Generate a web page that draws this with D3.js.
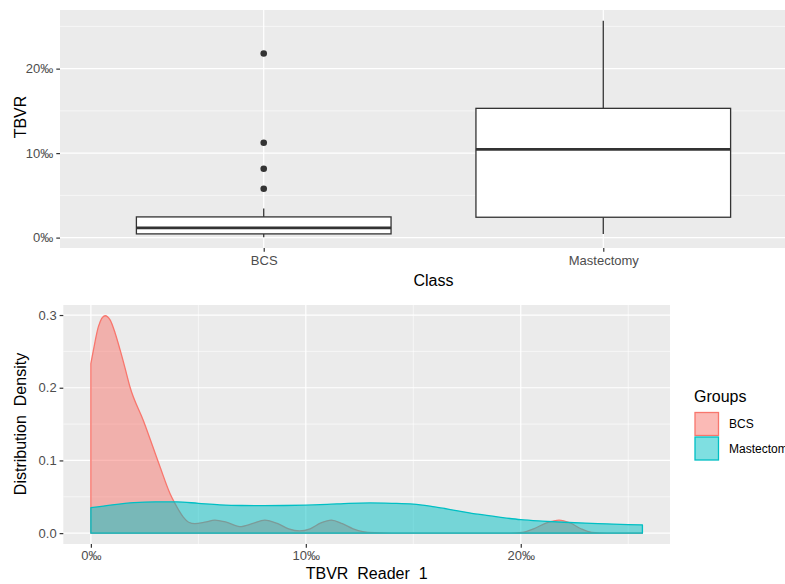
<!DOCTYPE html>
<html>
<head>
<meta charset="utf-8">
<script src="https://cdn.jsdelivr.net/npm/d3@7"></script>
<style>
  body { margin: 0; background: #fff; }
  svg { display: block; font-family: "Liberation Sans", Arial, sans-serif; }
  text { white-space: pre; }
</style>
</head>
<body>
<svg id="chart" width="785" height="584"></svg>
<script>
// ---------- DATA ----------
const classes = ["BCS", "Mastectomy"];
// box stats (‰): whisker low, Q1, median, Q3, whisker high
const boxLow    = [0.05, 0.44];
const boxQ1     = [0.44, 2.41];
const boxMedian = [1.15, 10.44];
const boxQ3     = [2.45, 15.3];
const boxHigh   = [3.44, 25.66];
const bcsOutliers = [5.78, 8.15, 11.23, 21.8];

const topYTicks = [0, 10, 20];
const botXTicks = [0, 10, 20];
const botYTicks = [0, 0.1, 0.2, 0.3];

// density curves (x in ‰, density)
const bcsDensX = [0, 0.12, 0.35, 0.66, 0.9, 1.13, 1.36, 1.59, 1.82, 2.44, 3.22, 3.68, 3.91, 4.1, 4.3, 4.55, 4.84, 5.3, 5.77, 6.3, 6.93, 7.5, 8.09, 8.7, 9.2, 9.71, 10.2, 10.7, 11.18, 11.7, 12.2, 12.65, 13.2, 14, 19.5, 20.07, 20.6, 21.2, 21.78, 22.3, 22.8, 23.3, 24, 25.66];
const bcsDensY = [0.233, 0.252, 0.284, 0.299, 0.293, 0.275, 0.252, 0.227, 0.201, 0.155, 0.091, 0.0546, 0.041, 0.031, 0.022, 0.015, 0.013, 0.015, 0.018, 0.015, 0.009, 0.013, 0.018, 0.013, 0.006, 0.003, 0.006, 0.014, 0.018, 0.013, 0.006, 0.002, 0.0005, 0, 0, 0.001, 0.006, 0.014, 0.018, 0.014, 0.006, 0.001, 0, 0];
const mastDensX = [0, 1, 2, 3, 4, 5, 6, 7, 8, 9, 10, 11, 12, 13, 14, 15, 16, 17, 18, 19, 20, 21, 22, 23, 24, 25, 25.66];
const mastDensY = [0.035, 0.039, 0.042, 0.043, 0.043, 0.041, 0.039, 0.038, 0.0378, 0.038, 0.0385, 0.0395, 0.041, 0.0415, 0.041, 0.040, 0.036, 0.031, 0.026, 0.022, 0.0185, 0.0165, 0.0150, 0.0138, 0.0128, 0.0118, 0.0114];

const groups = ["BCS", "Mastectomy"];
const groupColors = ["#F8766D", "#00BFC4"];

// ---------- LAYOUT ----------
const svg = d3.select("#chart");
const bg = "#EBEBEB", tickCol = "#4D4D4D", gridCol = "#FFFFFF";
const fmt = d => d + "‰";

// ===== TOP PANEL (boxplot) =====
const T = {l: 60, r: 807, t: 10, b: 248};
const xTop = d3.scalePoint().domain(classes).range([T.l, T.r]).padding(0.6);
const yTop = d3.scaleLinear().domain([-1.23, 26.94]).range([T.b, T.t]);
const gTop = svg.append("g");
gTop.append("rect").attr("x", T.l).attr("y", T.t).attr("width", T.r - T.l).attr("height", T.b - T.t).attr("fill", bg);
gTop.selectAll(".minor").data([5, 15, 25]).join("line")
  .attr("x1", T.l).attr("x2", T.r).attr("y1", d => yTop(d)).attr("y2", d => yTop(d))
  .attr("stroke", gridCol).attr("stroke-width", 0.6);
gTop.selectAll(".major").data(topYTicks).join("line")
  .attr("x1", T.l).attr("x2", T.r).attr("y1", d => yTop(d)).attr("y2", d => yTop(d))
  .attr("stroke", gridCol).attr("stroke-width", 1.2);
gTop.selectAll(".vmajor").data(classes).join("line")
  .attr("x1", d => xTop(d)).attr("x2", d => xTop(d)).attr("y1", T.t).attr("y2", T.b)
  .attr("stroke", gridCol).attr("stroke-width", 1.2);

const bw = xTop.step() * 0.75;
const boxStroke = "#333333";
classes.forEach((c, i) => {
  const cx = xTop(c);
  gTop.append("line").attr("x1", cx).attr("x2", cx).attr("y1", yTop(boxHigh[i])).attr("y2", yTop(boxQ3[i]))
    .attr("stroke", boxStroke).attr("stroke-width", 1.3);
  gTop.append("line").attr("x1", cx).attr("x2", cx).attr("y1", yTop(boxQ1[i])).attr("y2", yTop(boxLow[i]))
    .attr("stroke", boxStroke).attr("stroke-width", 1.3);
  gTop.append("rect").attr("x", cx - bw / 2).attr("width", bw)
    .attr("y", yTop(boxQ3[i])).attr("height", yTop(boxQ1[i]) - yTop(boxQ3[i]))
    .attr("fill", "#fff").attr("stroke", boxStroke).attr("stroke-width", 1.3);
  gTop.append("line").attr("x1", cx - bw / 2).attr("x2", cx + bw / 2).attr("y1", yTop(boxMedian[i])).attr("y2", yTop(boxMedian[i]))
    .attr("stroke", boxStroke).attr("stroke-width", 2.6);
});
gTop.selectAll(".out").data(bcsOutliers).join("circle")
  .attr("cx", xTop("BCS")).attr("cy", d => yTop(d)).attr("r", 3.3).attr("fill", "#333");

// axes top
const yAxT = gTop.append("g").attr("transform", `translate(${T.l},0)`)
  .call(d3.axisLeft(yTop).tickValues(topYTicks).tickFormat(fmt).tickSize(3.7).tickPadding(3));
const xAxT = gTop.append("g").attr("transform", `translate(0,${T.b})`)
  .call(d3.axisBottom(xTop).tickSize(3.7).tickPadding(4));
[yAxT, xAxT].forEach(a => {
  a.select(".domain").remove();
  a.selectAll(".tick line").attr("stroke", "#333").attr("stroke-width", 1.2);
  a.selectAll(".tick text").attr("fill", tickCol).style("font-size", "13px").style("font-family", "Liberation Sans, Arial, sans-serif");
});
gTop.append("text").attr("x", (T.l + T.r) / 2).attr("y", 285.5).attr("text-anchor", "middle")
  .style("font-size", "16px").text("Class");
gTop.append("text").attr("transform", `translate(26,117) rotate(-90)`).attr("text-anchor", "middle")
  .style("font-size", "16px").text("TBVR");

// ===== BOTTOM PANEL (density) =====
const B = {l: 63.3, r: 670, t: 305, b: 544};
const xBot = d3.scaleLinear().domain([-1.283, 26.943]).range([B.l, B.r]);
const yBot = d3.scaleLinear().domain([-0.01495, 0.3138]).range([B.b, B.t]);
const gBot = svg.append("g");
gBot.append("rect").attr("x", B.l).attr("y", B.t).attr("width", B.r - B.l).attr("height", B.b - B.t).attr("fill", bg);
gBot.selectAll(".hminor").data([0.05, 0.15, 0.25]).join("line")
  .attr("x1", B.l).attr("x2", B.r).attr("y1", d => yBot(d)).attr("y2", d => yBot(d))
  .attr("stroke", gridCol).attr("stroke-width", 0.6);
gBot.selectAll(".vminor").data([5, 15, 25]).join("line")
  .attr("x1", d => xBot(d)).attr("x2", d => xBot(d)).attr("y1", B.t).attr("y2", B.b)
  .attr("stroke", gridCol).attr("stroke-width", 0.6);
gBot.selectAll(".hmajor").data(botYTicks).join("line")
  .attr("x1", B.l).attr("x2", B.r).attr("y1", d => yBot(d)).attr("y2", d => yBot(d))
  .attr("stroke", gridCol).attr("stroke-width", 1.2);
gBot.selectAll(".vmajor").data(botXTicks).join("line")
  .attr("x1", d => xBot(d)).attr("x2", d => xBot(d)).attr("y1", B.t).attr("y2", B.b)
  .attr("stroke", gridCol).attr("stroke-width", 1.2);

const area = d3.area().x(d => xBot(d[0])).y0(yBot(0)).y1(d => yBot(d[1])).curve(d3.curveMonotoneX);
const dens = [d3.zip(bcsDensX, bcsDensY), d3.zip(mastDensX, mastDensY)];
dens.forEach((pts, i) => {
  gBot.append("path").datum(pts).attr("d", d => area(d))
    .attr("fill", groupColors[i]).attr("fill-opacity", 0.5)
    .attr("stroke", groupColors[i]).attr("stroke-width", 1.3).attr("stroke-linejoin", "round");
});

const yAxB = gBot.append("g").attr("transform", `translate(${B.l},0)`)
  .call(d3.axisLeft(yBot).tickValues(botYTicks).tickFormat(d3.format(".1f")).tickSize(3.7).tickPadding(3));
const xAxB = gBot.append("g").attr("transform", `translate(0,${B.b})`)
  .call(d3.axisBottom(xBot).tickValues(botXTicks).tickFormat(fmt).tickSize(3.7).tickPadding(3.5));
[yAxB, xAxB].forEach(a => {
  a.select(".domain").remove();
  a.selectAll(".tick line").attr("stroke", "#333").attr("stroke-width", 1.2);
  a.selectAll(".tick text").attr("fill", tickCol).style("font-size", "13px").style("font-family", "Liberation Sans, Arial, sans-serif");
});
gBot.append("text").attr("x", (B.l + B.r) / 2).attr("y", 579).attr("text-anchor", "middle")
  .style("font-size", "16px").text("TBVR  Reader  1");
gBot.append("text").attr("transform", `translate(26,424) rotate(-90)`).attr("text-anchor", "middle")
  .style("font-size", "16px").text("Distribution  Density");

// legend
const gLeg = svg.append("g");
gLeg.append("text").attr("x", 694).attr("y", 402).style("font-size", "16px").text("Groups");
groups.forEach((g, i) => {
  const y0 = 412 + i * 24.5;
  gLeg.append("rect").attr("x", 695).attr("y", y0 + 0.5).attr("width", 23.5).attr("height", 23)
    .attr("fill", groupColors[i]).attr("fill-opacity", 0.5).attr("stroke", groupColors[i]).attr("stroke-width", 1.3);
  gLeg.append("text").attr("x", 729).attr("y", y0 + 16).style("font-size", "12px").text(g);
});
</script>
</body>
</html>
